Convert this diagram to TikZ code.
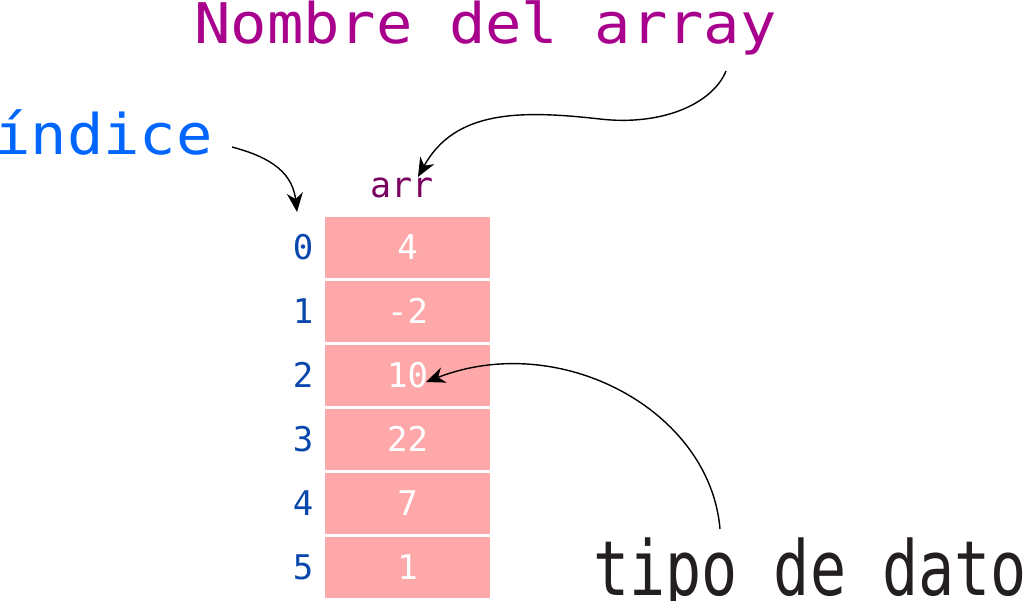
\documentclass[tikz,border=0pt]{standalone}
\usepackage{fontspec}
\usepackage{tikz}
\usepackage{xcolor}
\usetikzlibrary{
    arrows.meta
}
\setmonofont{DejaVu Sans Mono}
\newfontfamily\labelfont[FakeStretch=1.08]{DejaVu Sans Mono}
\newfontfamily\tipofont[FakeStretch=0.79]{DejaVu Sans Mono}

\definecolor{cellpink}{RGB}{255,168,170}
\definecolor{nombrecolor}{RGB}{168,0,140}
\definecolor{arrcolor}{RGB}{122,0,96}
\definecolor{indicecolor}{RGB}{0,102,255}
\definecolor{indexcolor}{RGB}{10,71,173}
\definecolor{tipocolor}{RGB}{35,31,32}

\tikzset{
    cell/.style={fill=cellpink, minimum width=165pt, minimum height=61pt, inner sep=0pt,
        text=white, font=\ttfamily\fontsize{34}{40}\selectfont},
    index/.style={inner sep=0pt, text=indexcolor, font=\ttfamily\fontsize{34}{40}\selectfont},
    pointer/.style={-{Stealth[length=19pt, width=16pt, inset=6pt]}, line width=1.4pt, black}
}

\begin{document}
\begin{tikzpicture}[x=1pt, y=-1pt]
            \useasboundingbox (0,0) rectangle (1024,600);

            \node[cell] (cell0) at (407.5,247) {4};
            \node[cell] (cell1) at (407.5,311) {-2};
            \node[cell] (cell2) at (407.5,375) {10};
            \node[cell] (cell3) at (407.5,439) {22};
            \node[cell] (cell4) at (407.5,503) {7};
            \node[cell] (cell5) at (407.5,567) {1};

            \node[index] (index0) at (303,247) {0};
            \node[index] (index1) at (303,311) {1};
            \node[index] (index2) at (303,375) {2};
            \node[index] (index3) at (303,439) {3};
            \node[index] (index4) at (303,503) {4};
            \node[index] (index5) at (303,567) {5};

            \node[inner sep=0pt, anchor=base, text=arrcolor, font=\ttfamily\fontsize{35}{40}\selectfont] (arrname) at (402,197) {arr};

            \node[inner sep=0pt, anchor=base west, text=nombrecolor, font=\labelfont\fontsize{56}{60}\selectfont] (nombre) at (194,43) {Nombre del array};
            \node[inner sep=0pt, anchor=base east, text=indicecolor, font=\labelfont\fontsize{56}{60}\selectfont] (indice) at (213,154) {índice};
            \node[inner sep=0pt, anchor=base west, text=tipocolor, font=\tipofont\fontsize{76}{80}\selectfont] (tipo) at (593,595) {tipo de dato};

            \coordinate (indicefrom) at (232,147);
            \coordinate (indiceto) at (297,212);
            \coordinate (nombrefrom) at (726,71);
            \coordinate (nombreto) at (418,177);
            \coordinate (tipofrom) at (720,529);
            \coordinate (tipoto) at (426,382);

            \draw[pointer] (indicefrom) .. controls (262,155) and (292,168) .. (indiceto);
            \draw[pointer] (nombrefrom) .. controls (712,105) and (660,126) .. (600,119)
                .. controls (520,110) and (455,110) .. (nombreto);
            \draw[pointer] (tipofrom) .. controls (710,410) and (560,330) .. (tipoto);
\end{tikzpicture}
\end{document}
